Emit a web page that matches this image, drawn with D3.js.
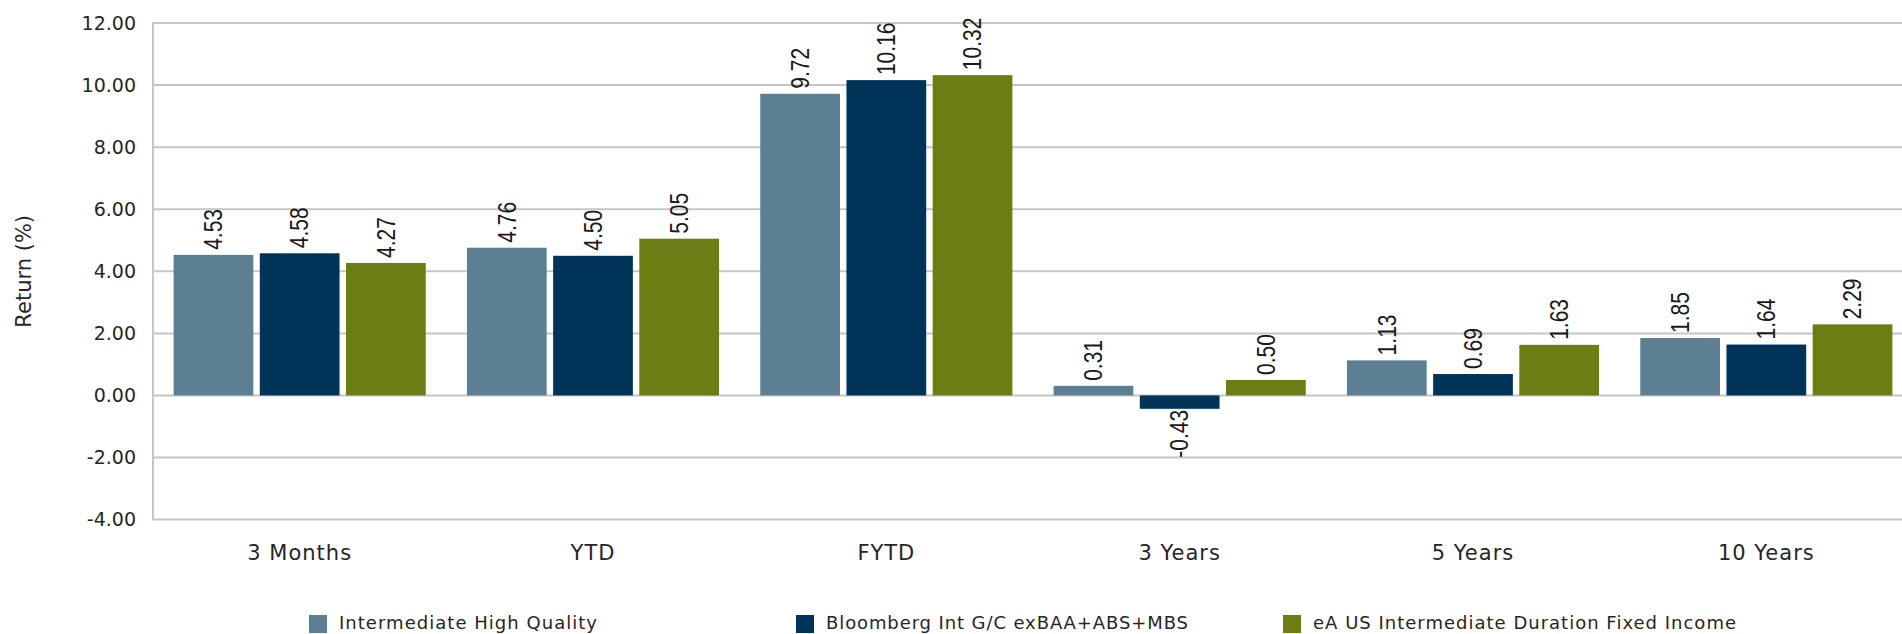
<!DOCTYPE html>
<html>
<head>
<meta charset="utf-8">
<script src="https://cdn.jsdelivr.net/npm/d3@7"></script>
<style>
html,body{margin:0;padding:0;background:#fff;}
svg{display:block;}
</style>
</head>
<body>
<svg id="chart" width="1902" height="634"></svg>
<script>
const categories = ["3 Months", "YTD", "FYTD", "3 Years", "5 Years", "10 Years"];
const seriesNames = ["Intermediate High Quality", "Bloomberg Int G/C exBAA+ABS+MBS", "eA US Intermediate Duration Fixed Income"];
const intermediateHighQuality = [4.53, 4.76, 9.72, 0.31, 1.13, 1.85];
const bloombergIntGC = [4.58, 4.50, 10.16, -0.43, 0.69, 1.64];
const eaUSIntermediate = [4.27, 5.05, 10.32, 0.50, 1.63, 2.29];
const yTicks = [-4, -2, 0, 2, 4, 6, 8, 10, 12];
const colors = ["#5d7f93", "#003358", "#6b7d13"];

(function () {
const seriesValues = [intermediateHighQuality, bloombergIntGC, eaUSIntermediate];
const data = categories.map((c, i) => ({
  category: c,
  values: seriesNames.map((s, j) => ({ series: s, idx: j, value: seriesValues[j][i] }))
}));

const svg = d3.select("#chart");
const plotLeft = 153, plotRight = 1913, plotTop = 23, plotBottom = 519.6;

const y = d3.scaleLinear().domain([-4, 12]).range([plotBottom, plotTop]);
const x0 = d3.scaleBand().domain(categories).range([plotLeft, plotRight]).paddingInner(0).paddingOuter(0);
const groupPad = 20.6;
const x1 = d3.scaleBand().domain(seriesNames).range([groupPad, x0.bandwidth() - groupPad]).paddingInner(0.075).paddingOuter(0);

const fmt = v => d3.format(".2f")(v).replace("\u2212", "-");

// gridlines
svg.append("g").selectAll("line").data(yTicks).join("line")
  .attr("x1", plotLeft).attr("x2", 1902)
  .attr("y1", d => y(d)).attr("y2", d => y(d))
  .attr("stroke", "#c6c6c6").attr("stroke-width", 2);
// left axis line
svg.append("line").attr("x1", plotLeft).attr("x2", plotLeft)
  .attr("y1", y(12) - 1).attr("y2", y(-4) + 1)
  .attr("stroke", "#c6c6c6").attr("stroke-width", 2);

// y-axis tick labels via d3 axis
const yAxis = d3.axisLeft(y).tickValues(yTicks).tickFormat(fmt).tickSize(0).tickPadding(17);
const ga = svg.append("g").attr("transform", `translate(${plotLeft},0)`).call(yAxis);
ga.select(".domain").remove();
ga.selectAll("text").attr("font-family", "DejaVu Sans").attr("font-size", 19).attr("fill", "#262626");

// x-axis category labels
const xAxis = d3.axisBottom(x0).tickSize(0).tickPadding(0);
const gx = svg.append("g").attr("transform", `translate(0,${y(-4)})`).call(xAxis);
gx.select(".domain").remove();
gx.selectAll("text").attr("font-family", "DejaVu Sans").attr("font-size", 21).attr("fill", "#262626")
  .attr("letter-spacing", 1)
  .attr("dy", null).attr("y", 40);

// y title
svg.append("text")
  .attr("transform", `translate(31,${(plotTop + plotBottom) / 2}) rotate(-90)`)
  .attr("text-anchor", "middle")
  .attr("font-family", "DejaVu Sans").attr("font-size", 21).attr("fill", "#262626")
  .text("Return (%)");

// bars
const groups = svg.append("g").selectAll("g").data(data).join("g")
  .attr("transform", d => `translate(${x0(d.category)},0)`);
groups.selectAll("rect").data(d => d.values).join("rect")
  .attr("x", d => x1(d.series))
  .attr("width", x1.bandwidth())
  .attr("y", d => y(Math.max(0, d.value)))
  .attr("height", d => Math.abs(y(d.value) - y(0)))
  .attr("fill", d => colors[d.idx]);

// value labels
groups.selectAll("text.val").data(d => d.values).join("text")
  .attr("class", "val")
  .attr("transform", d => {
    const cx = x1(d.series) + x1.bandwidth() / 2;
    const yy = d.value >= 0 ? y(d.value) - 5 : y(d.value) + 1;
    return `translate(${cx},${yy}) scale(1.2,1) rotate(-90)`;
  })
  .attr("text-anchor", d => d.value >= 0 ? "start" : "end")
  .attr("dy", "0.35em")
  .attr("font-family", "Liberation Sans").attr("font-size", 21).attr("fill", "#1a1a1a")
  .text(d => fmt(d.value));

// legend
const legendX = [309, 796, 1283];
const legendTextLen = [258, 362, 423];
const lg = svg.append("g").selectAll("g").data(seriesNames).join("g")
  .attr("transform", (d, i) => `translate(${legendX[i]},615)`);
lg.append("rect").attr("width", 18).attr("height", 18).attr("fill", (d, i) => colors[i]);
lg.append("text").attr("x", 30).attr("y", 14)
  .attr("font-family", "DejaVu Sans").attr("font-size", 18).attr("fill", "#262626")
  .attr("textLength", (d, i) => legendTextLen[i]).attr("lengthAdjust", "spacing")
  .text(d => d);
})();
</script>
</body>
</html>
